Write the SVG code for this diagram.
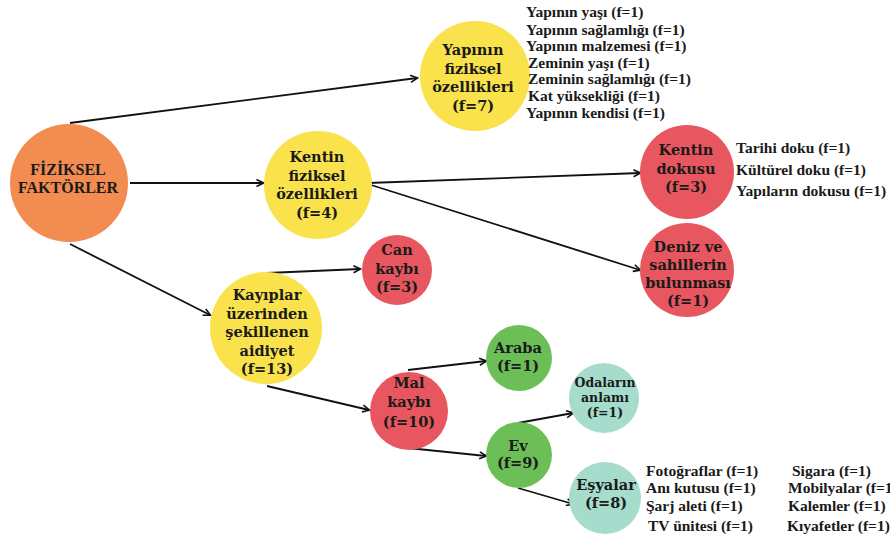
<svg xmlns="http://www.w3.org/2000/svg" width="890" height="542" viewBox="0 0 890 542">
<defs>
<marker id="arr" markerWidth="10" markerHeight="10" refX="8" refY="5" orient="auto" markerUnits="userSpaceOnUse">
<path d="M1.5,1.5 L8.5,5 L1.5,8.5" fill="none" stroke="#111" stroke-width="1.6"/>
</marker>
</defs>
<style>
.edge{stroke:#111;stroke-width:1.8;fill:none;marker-end:url(#arr)}
.nt{font-family:"DejaVu Serif","Liberation Serif",serif;font-weight:bold;font-size:14.5px;fill:#1a1a1a;text-anchor:middle}
.sm{font-size:12.5px}
.lt{font-family:"Liberation Serif","Times New Roman",serif;font-weight:bold;font-size:15.5px;fill:#1a1a1a}
.root{font-family:"Liberation Serif","Times New Roman",serif;font-weight:bold;font-size:16px;fill:#1a1a1a;text-anchor:middle}
.orange{fill:#F28C50}.yellow{fill:#F9E24C}.red{fill:#E8575F}.green{fill:#6CBF57}.teal{fill:#A5DCCB}
</style>
<rect width="890" height="542" fill="#ffffff"/>
<g id="connectors">
<line class="edge" x1="70" y1="123" x2="417" y2="78"/>
<line class="edge" x1="130" y1="183" x2="263" y2="183"/>
<line class="edge" x1="70" y1="244" x2="210" y2="315"/>
<line class="edge" x1="368" y1="183" x2="640" y2="173"/>
<line class="edge" x1="368" y1="184" x2="640" y2="270"/>
<line class="edge" x1="267" y1="273" x2="360" y2="269"/>
<line class="edge" x1="267" y1="386" x2="369" y2="410"/>
<line class="edge" x1="408" y1="370" x2="486" y2="361"/>
<line class="edge" x1="408" y1="448" x2="486" y2="456"/>
<line class="edge" x1="518" y1="423" x2="573" y2="413"/>
<line class="edge" x1="518" y1="488" x2="573" y2="504"/>
</g>
<g id="n-fiziksel-faktorler">
<circle class="orange" cx="69" cy="183" r="59"/>
<text class="root" x="68" y="175">FİZİKSEL</text>
<text class="root" x="68" y="193">FAKTÖRLER</text>
</g>
<g id="n-yapinin-fiziksel">
<circle class="yellow" cx="475" cy="76" r="55"/>
<text class="nt" x="473" y="55">Yapının<tspan x="473" dy="18.5">fiziksel</tspan><tspan x="473" dy="18.5">özellikleri</tspan><tspan x="473" dy="18.5">(f=7)</tspan></text>
</g>
<g id="list-yapinin">
<text class="lt" x="526" y="17">Yapının yaşı (f=1)</text>
<text class="lt" x="526" y="35">Yapının sağlamlığı  (f=1)</text>
<text class="lt" x="526" y="51">Yapının malzemesi (f=1)</text>
<text class="lt" x="528" y="68">Zeminin yaşı (f=1)</text>
<text class="lt" x="528" y="84">Zeminin sağlamlığı (f=1)</text>
<text class="lt" x="528" y="101">Kat yüksekliği (f=1)</text>
<text class="lt" x="526" y="118">Yapının kendisi (f=1)</text>
</g>
<g id="n-kentin-fiziksel">
<circle class="yellow" cx="318" cy="185" r="54"/>
<text class="nt" x="317" y="162">Kentin<tspan x="317" dy="18.5">fiziksel</tspan><tspan x="317" dy="18.5">özellikleri</tspan><tspan x="317" dy="18.5">(f=4)</tspan></text>
</g>
<g id="n-kentin-dokusu">
<circle class="red" cx="687" cy="172" r="47"/>
<text class="nt" x="686" y="155">Kentin<tspan x="686" dy="18.5">dokusu</tspan><tspan x="686" dy="18.5">(f=3)</tspan></text>
</g>
<g id="list-kentin-dokusu">
<text class="lt" x="736" y="153">Tarihi doku (f=1)</text>
<text class="lt" x="736" y="175">Kültürel doku (f=1)</text>
<text class="lt" x="736" y="196">Yapıların dokusu (f=1)</text>
</g>
<g id="n-deniz">
<circle class="red" cx="687" cy="270" r="47"/>
<text class="nt" x="688" y="252">Deniz ve<tspan x="688" dy="18">sahillerin</tspan><tspan x="688" dy="18">bulunması</tspan><tspan x="688" dy="17.5">(f=1)</tspan></text>
</g>
<g id="n-kayiplar">
<circle class="yellow" cx="266" cy="328" r="56"/>
<text class="nt" x="267" y="300">Kayıplar<tspan x="267" dy="18.5">üzerinden</tspan><tspan x="267" dy="18.5">şekillenen</tspan><tspan x="267" dy="18.5">aidiyet</tspan><tspan x="267" dy="18">(f=13)</tspan></text>
</g>
<g id="n-can-kaybi">
<circle class="red" cx="397" cy="270" r="35"/>
<text class="nt" x="397" y="255">Can<tspan x="397" dy="18.5">kaybı</tspan><tspan x="397" dy="18.5">(f=3)</tspan></text>
</g>
<g id="n-mal-kaybi">
<circle class="red" cx="409" cy="411" r="39"/>
<text class="nt" x="409" y="388">Mal<tspan x="409" dy="19">kaybı</tspan><tspan x="409" dy="20">(f=10)</tspan></text>
</g>
<g id="n-araba">
<circle class="green" cx="519" cy="358" r="33"/>
<text class="nt" x="518" y="353">Araba<tspan x="518" dy="17.5">(f=1)</tspan></text>
</g>
<g id="n-ev">
<circle class="green" cx="519" cy="455" r="33"/>
<text class="nt" x="518" y="451">Ev<tspan x="518" dy="17">(f=9)</tspan></text>
</g>
<g id="n-odalarin">
<circle class="teal" cx="604" cy="398" r="35"/>
<text class="nt sm" x="605" y="387">Odaların<tspan x="605" dy="15">anlamı</tspan><tspan x="605" dy="15">(f=1)</tspan></text>
</g>
<g id="n-esyalar">
<circle class="teal" cx="605" cy="498" r="36"/>
<text class="nt" x="606" y="490">Eşyalar<tspan x="606" dy="17.5">(f=8)</tspan></text>
</g>
<g id="list-esyalar">
<text class="lt" x="646" y="476">Fotoğraflar (f=1)</text>
<text class="lt" x="646" y="493">Anı kutusu (f=1)</text>
<text class="lt" x="646" y="511">Şarj aleti (f=1)</text>
<text class="lt" x="648" y="531">TV ünitesi (f=1)</text>
<text class="lt" x="792" y="476">Sigara (f=1)</text>
<text class="lt" x="788" y="493">Mobilyalar (f=1)</text>
<text class="lt" x="788" y="511">Kalemler (f=1)</text>
<text class="lt" x="787" y="531">Kıyafetler (f=1)</text>
</g>
</svg>
